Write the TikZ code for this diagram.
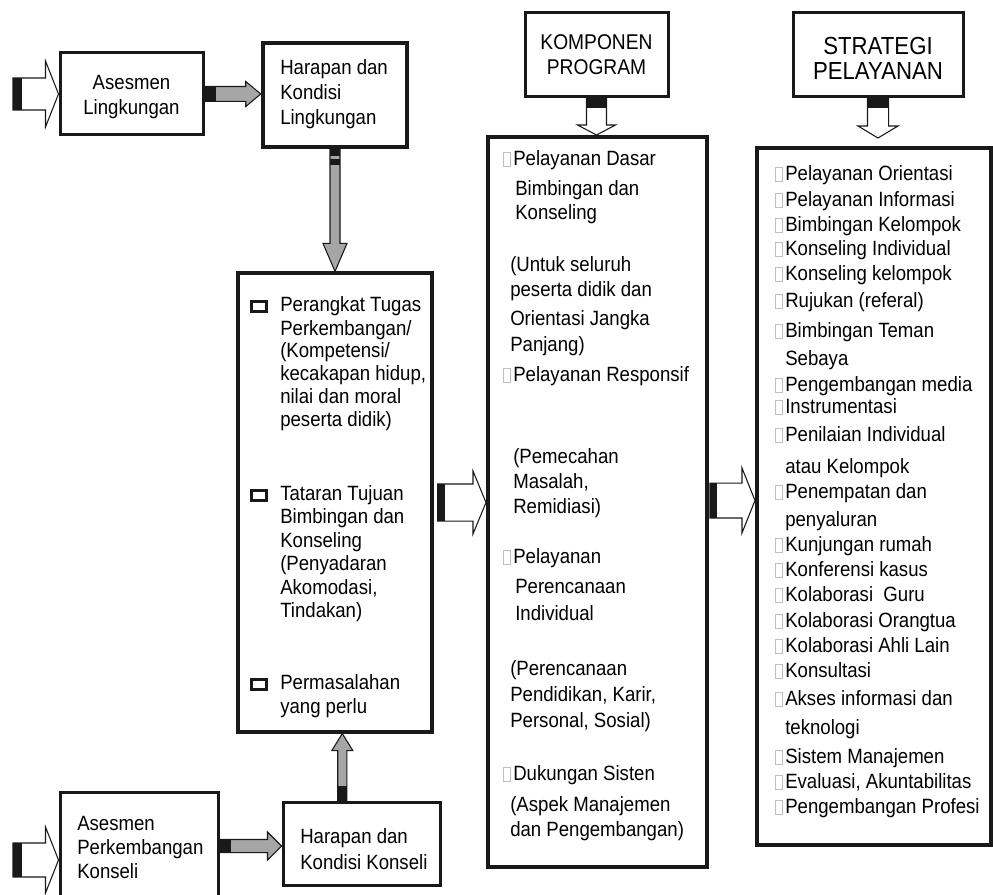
\documentclass[tikz,border=0pt]{standalone}
\usepackage{fontspec}
\setmainfont{Liberation Sans}[FakeStretch=0.9]
\usepackage{xcolor}
\usetikzlibrary{calc}
\definecolor{qqqqqq}{rgb}{0.1,0.1,0.1}
\definecolor{bfbfbf}{rgb}{0.65,0.65,0.65}
\definecolor{dcdcdc}{rgb}{0.75,0.75,0.75}
\tikzstyle{every node}=[font=\fontsize{15.5}{18}\selectfont]
\tikzset{
  box/.style n args={3}{draw=qqqqqq,line width=#1,minimum width=#2*0.75pt,minimum height=#3*0.75pt,inner sep=0pt},
  bl/.style={anchor=base west,inner sep=0pt},
  bc/.style={anchor=base,inner sep=0pt},
  ml/.style={anchor=mid west,inner sep=0pt},
  arrowline/.style={draw=qqqqqq,line width=0.8pt,line join=miter},
  hollow/.style n args={3}{to path={
    ($(\tikztotarget)!#3!(\tikztostart)$) coordinate (hb)
    ($(\tikztostart)!#1!90:(\tikztotarget)$) -- ($(hb)!#1!-90:(\tikztostart)$)
    -- ($(hb)!#2!-90:(\tikztostart)$) -- (\tikztotarget) -- ($(hb)!#2!90:(\tikztostart)$)
    -- ($(hb)!#1!90:(\tikztostart)$) -- ($(\tikztostart)!#1!-90:(\tikztotarget)$) -- cycle}}
}
% black piece at the tail of a block arrow
\newcommand{\tailbar}[4]{\draw[qqqqqq,line width=#1,line cap=butt] (#3) -- ($(#3)!#2!(#4)$);}
% bullets
\newcommand{\gsq}{\llap{\textcolor{dcdcdc}{\fboxsep=0pt\fboxrule=0.6pt\fbox{\rule{0pt}{9.5pt}\hspace{5pt}}}\hspace{1.5pt}}}
\newcommand{\bsq}{\llap{\raisebox{1.5pt}{\textcolor{qqqqqq}{\fboxsep=0pt\fboxrule=2.25pt\fbox{\rule{0pt}{5.25pt}\hspace{9pt}}}}\hspace{9pt}}}

\begin{document}
\begin{tikzpicture}[line join=miter,x=0.75pt,y=-0.75pt]
\clip (0,0) rectangle (993,895);
% boxes
\node[box={2.25pt}{143}{82}] (asl) at (131.5,94) {};
\node[box={3.4pt}{144}{104}] (hkl) at (335,95) {};
\node[box={2.4pt}{194}{459}] (ptb) at (335,502.5) {};
\node[box={2.25pt}{158}{113}] (apk) at (139,848.5) {};
\node[box={2.25pt}{157}{83}] (hkk) at (361.5,843.5) {};
\node[box={2.25pt}{143}{84}] (kmp) at (596.5,55) {};
\node[box={3pt}{219}{730}] (kmpbox) at (597.5,502) {};
\node[box={2.25pt}{170}{84}] (stg) at (878,55) {};
\node[box={3pt}{234}{697}] (stgbox) at (874,496.5) {};

% small boxes
\node[bc] (asl1) at (131.5,90) {Asesmen};
\node[bc] (asl2) at (131.5,115) {Lingkungan};
\node[bl] (hkl1) at (280,75) {Harapan dan};
\node[bl] (hkl2) at (280,100) {Kondisi};
\node[bl] (hkl3) at (280,125) {Lingkungan};
\node[bl] (apk1) at (77,830) {Asesmen};
\node[bl] (apk2) at (77,854) {Perkembangan};
\node[bl] (apk3) at (77,878) {Konseli};
\node[bl] (hkk1) at (300,843) {Harapan dan};
\node[bl] (hkk2) at (300,869) {Kondisi Konseli};
\node[bc,font=\fontsize{16}{19}\selectfont] (kmp1) at (596.5,50) {KOMPONEN};
\node[bc,font=\fontsize{16}{19}\selectfont] (kmp2) at (596.5,75) {PROGRAM};
\node[bc,font=\fontsize{18.5}{22}\selectfont] (stg1) at (878,55) {STRATEGI};
\node[bc,font=\fontsize{18.5}{22}\selectfont] (stg2) at (878,80) {PELAYANAN};

% perangkat tugas
\foreach \yy/\lbl [count=\i] in {308/{\bsq Perangkat Tugas},332/{Perkembangan/},354/{(Kompetensi/},377/{kecakapan hidup,},400/{nilai dan moral},423/{peserta didik)},
  497/{\bsq Tataran Tujuan},520/{Bimbingan dan},544/{Konseling},567/{(Penyadaran},591/{Akomodasi,},614/{Tindakan)},
  686/{\bsq Permasalahan},710/{yang perlu}}
  \node[ml] (p\i) at (280,\yy) {\lbl};

% komponen program
\foreach \xx/\yy/\lbl [count=\i] in {513/162/{\gsq Pelayanan Dasar},515/192/{Bimbingan dan},515/216/{Konseling},
  510/268/{(Untuk seluruh},510/293/{peserta didik dan},510/322/{Orientasi Jangka},510/348/{Panjang)},
  513/378/{\gsq Pelayanan Responsif},
  513/460/{(Pemecahan},513/485/{Masalah,},513/510/{Remidiasi)},
  513/560/{\gsq Pelayanan},515/590/{Perencanaan},515/617/{Individual},
  510/672/{(Perencanaan},510/698/{Pendidikan, Karir,},510/724/{Personal, Sosial)},
  513/777/{\gsq Dukungan Sisten},510/808/{(Aspek Manajemen},510/833/{dan Pengembangan)}}
  \node[ml] (k\i) at (\xx,\yy) {\lbl};

% strategi pelayanan
\foreach \yy/\lbl [count=\i] in {177/{\gsq Pelayanan Orientasi},203/{\gsq Pelayanan Informasi},228/{\gsq Bimbingan Kelompok},
  252/{\gsq Konseling Individual},277/{\gsq Konseling kelompok},304/{\gsq Rujukan (referal)},
  334/{\gsq Bimbingan Teman},362/{Sebaya},388/{\gsq Pengembangan media},410/{\gsq Instrumentasi},
  438/{\gsq Penilaian Individual},470/{atau Kelompok},495/{\gsq Penempatan dan},523/{penyaluran},
  548/{\gsq Kunjungan rumah},573/{\gsq Konferensi kasus},598/{\gsq Kolaborasi\ \ Guru},
  624/{\gsq Kolaborasi Orangtua},649/{\gsq Kolaborasi Ahli Lain},674/{\gsq Konsultasi},
  702/{\gsq Akses informasi dan},731/{teknologi},760/{\gsq Sistem Manajemen},
  785/{\gsq Evaluasi, Akuntabilitas},810/{\gsq Pengembangan Profesi}}
  \node[ml,font=\fontsize{15.5}{18}\selectfont] (s\i) at (785,\yy) {\lbl};

% arrows
\coordinate (in1) at (13,94);
\draw[arrowline,fill=white,hollow={12pt}{24.75pt}{9.75pt}] (in1) to (asl.west);
\tailbar{24pt}{6.75pt}{in1}{asl.west}

\coordinate (g1) at (hkl.west |- asl.east);
\draw[arrowline,fill=bfbfbf,hollow={5.6pt}{9.4pt}{11.25pt}] (asl.east) to (g1);
\tailbar{11.25pt}{8.25pt}{asl.east}{g1}

\draw[arrowline,fill=bfbfbf,hollow={3.75pt}{9pt}{21pt}] (hkl.south) to (ptb.north);
\draw[qqqqqq,line width=7.5pt,line cap=butt,dash pattern=on 5pt off 2pt on 5pt off 100pt] (hkl.south) -- ($(hkl.south)!12.75pt!(ptb.north)$);

\coordinate (u1) at ($(hkk.north west)!0.38!(hkk.north east)$);
\coordinate (u2) at (u1 |- ptb.south);
\draw[arrowline,fill=bfbfbf,hollow={3.4pt}{7.9pt}{12.75pt}] (u1) to (u2);
\tailbar{6.8pt}{11.25pt}{u1}{u2}

\coordinate (in2) at (13,860);
\coordinate (in3) at (apk.west |- in2);
\draw[arrowline,fill=white,hollow={12.75pt}{24.75pt}{9.75pt}] (in2) to (in3);
\tailbar{25.5pt}{6.75pt}{in2}{in3}

\coordinate (g3) at ($(apk.east)+(0,-2.5)$);
\coordinate (g4) at (hkk.west |- g3);
\draw[arrowline,fill=bfbfbf,hollow={4.9pt}{10.5pt}{10.5pt}] (g3) to (g4);
\tailbar{9.8pt}{8.25pt}{g3}{g4}

\coordinate (m1) at ($(ptb.east)+(4,0)$);
\coordinate (m2) at (kmpbox.west |- m1);
\draw[arrowline,fill=white,hollow={13.9pt}{23.6pt}{9.75pt}] (m1) to (m2);
\tailbar{27.8pt}{5.25pt}{m1}{m2}

\coordinate (m3) at ($(kmpbox.east)+(1,-1.5)$);
\coordinate (m4) at (stgbox.west |- m3);
\draw[arrowline,fill=white,hollow={13.1pt}{24.4pt}{9.75pt}] (m3) to (m4);
\tailbar{26.2pt}{5.25pt}{m3}{m4}

\coordinate (d1) at (kmp.south |- kmpbox.north);
\draw[arrowline,fill=white,hollow={7.5pt}{14.25pt}{7.5pt}] (kmp.south) to (d1);
\tailbar{15pt}{7.5pt}{kmp.south}{d1}

\coordinate (d2) at ($(stg.south |- stgbox.north)+(0,-8)$);
\draw[arrowline,fill=white,hollow={7.9pt}{15pt}{9pt}] (stg.south) to (d2);
\tailbar{15.8pt}{7.5pt}{stg.south}{d2}
\end{tikzpicture}
\end{document}
